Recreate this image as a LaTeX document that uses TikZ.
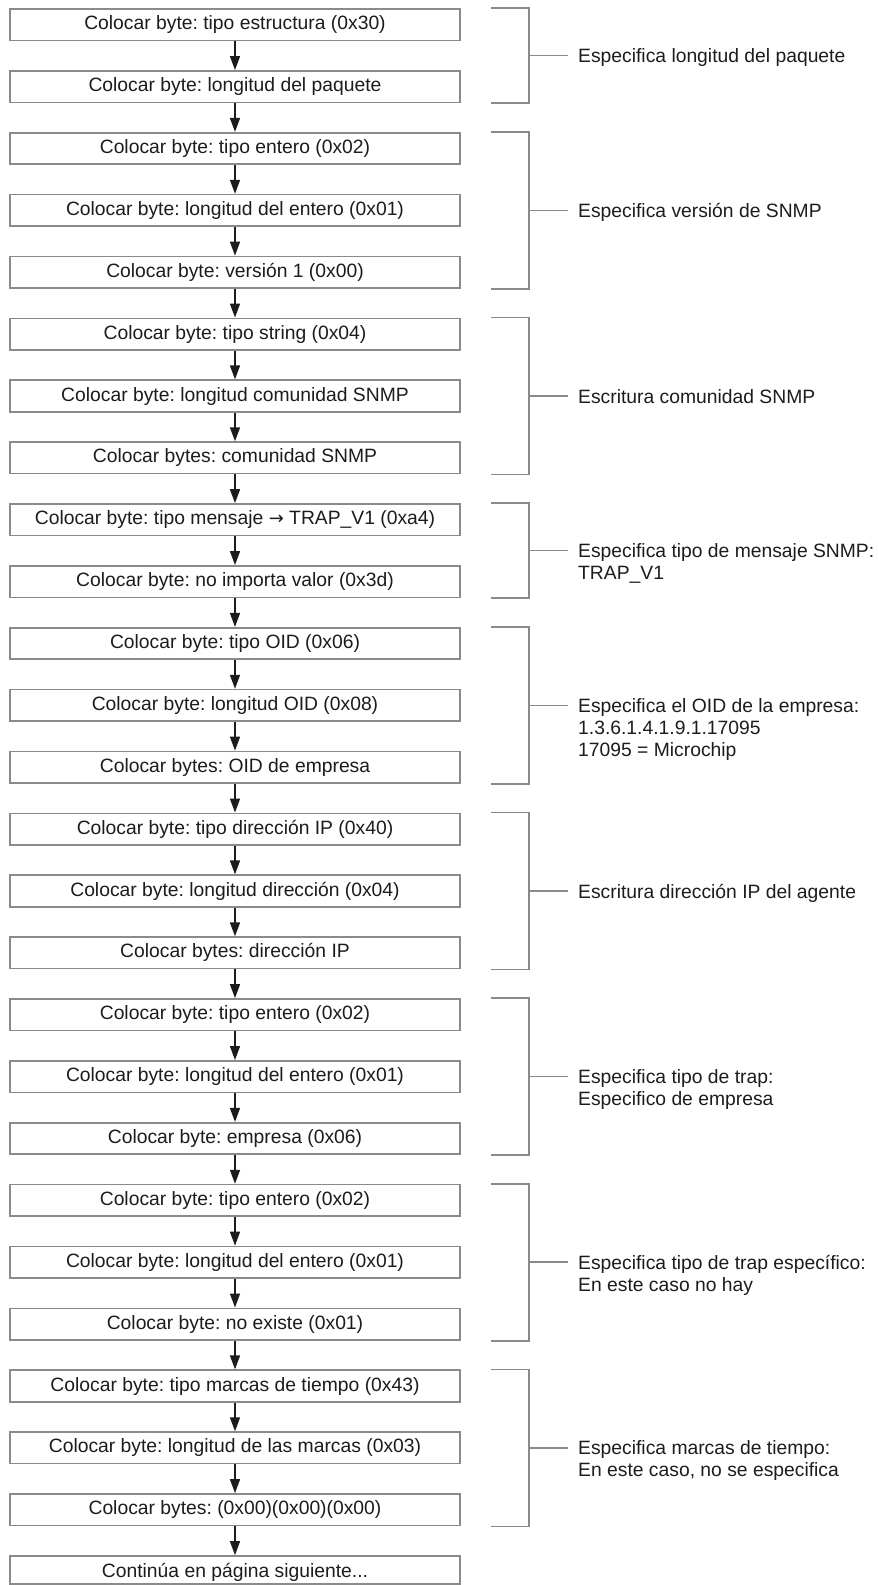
\documentclass[tikz,border=0pt]{standalone}
\usepackage{fontspec}
\setmainfont{Liberation Sans}
\newfontfamily\symfont{DejaVu Sans}
\usetikzlibrary{arrows.meta,calc}
\definecolor{framegray}{HTML}{8A8A8A}
\definecolor{ink}{HTML}{1C1C1C}
\frenchspacing
\begin{document}
\begin{tikzpicture}[x=1pt,y=-1pt,
  every node/.style={font=\fontsize{19.3}{22}\selectfont, text=ink},
  stepbox/.style={draw=framegray, line width=1.7pt, fill=white,
    minimum width=450, minimum height=31.5, inner sep=0,
    text height=14pt, text depth=4pt},
  flow/.style={draw=ink, line width=1.5pt,
    -{Triangle[length=14pt,width=10pt]}},
  brk/.style={draw=framegray, line width=1.6pt},
  note/.style={anchor=north west, align=left, inner sep=0}]
\useasboundingbox (0,0) rectangle (878,1585);

% process steps, one every 61.875 units
\foreach \i/\t in {
  1/{Colocar byte: tipo estructura (0x30)},
  2/{Colocar byte: longitud del paquete},
  3/{Colocar byte: tipo entero (0x02)},
  4/{Colocar byte: longitud del entero (0x01)},
  5/{Colocar byte: versión 1 (0x00)},
  6/{Colocar byte: tipo string (0x04)},
  7/{Colocar byte: longitud comunidad SNMP},
  8/{Colocar bytes: comunidad SNMP},
  9/{Colocar byte: tipo mensaje {\symfont\fontsize{18}{22}\selectfont →} TRAP\_V1 (0xa4)},
  10/{Colocar byte: no importa valor (0x3d)},
  11/{Colocar byte: tipo OID (0x06)},
  12/{Colocar byte: longitud OID (0x08)},
  13/{Colocar bytes: OID de empresa},
  14/{Colocar byte: tipo dirección IP (0x40)},
  15/{Colocar byte: longitud dirección (0x04)},
  16/{Colocar bytes: dirección IP},
  17/{Colocar byte: tipo entero (0x02)},
  18/{Colocar byte: longitud del entero (0x01)},
  19/{Colocar byte: empresa (0x06)},
  20/{Colocar byte: tipo entero (0x02)},
  21/{Colocar byte: longitud del entero (0x01)},
  22/{Colocar byte: no existe (0x01)},
  23/{Colocar byte: tipo marcas de tiempo (0x43)},
  24/{Colocar byte: longitud de las marcas (0x03)},
  25/{Colocar bytes: (0x00)(0x00)(0x00)}}
  \node[stepbox] (b\i) at (235, {9+(\i-1)*61.875+15.75}) {\t};

\node[stepbox, minimum height=28, text height=16pt, text depth=2pt]
  (b26) at (235, 1570) {Continúa en página siguiente...};

% arrows between consecutive steps
\foreach \i [evaluate=\i as \j using int(\i+1)] in {1,...,25}
  \draw[flow] (b\i.south) -- (b\j.north);

% brackets grouping the steps, with their explanations
\coordinate (bl) at (491,0);
\coordinate (br) at (529,0);
\coordinate (tk) at (568,0);
\foreach \a/\b/\txt in {
  1/2/{Especifica longitud del paquete},
  3/5/{Especifica versión de SNMP},
  6/8/{Escritura comunidad SNMP},
  9/10/{Especifica tipo de mensaje SNMP:\\TRAP\_V1},
  11/13/{Especifica el OID de la empresa:\\1.3.6.1.4.1.9.1.17095\\17095 = Microchip},
  14/16/{Escritura dirección IP del agente},
  17/19/{Especifica tipo de trap:\\Especifico de empresa},
  20/22/{Especifica tipo de trap específico:\\En este caso no hay},
  23/25/{Especifica marcas de tiempo:\\En este caso, no se especifica}} {
  \draw[brk] (b\a.north -| bl) -- (b\a.north -| br) -- (b\b.south -| br) -- (b\b.south -| bl);
  \coordinate (m\a) at ($(b\a.north -| br)!0.5!(b\b.south -| br)$);
  \draw[brk] (m\a) -- (m\a -| tk);
  \node[note] (n\a) at ($(m\a -| tk)+(10,-9.1)$) {\rule{0pt}{16pt}\txt};
}
\end{tikzpicture}
\end{document}
